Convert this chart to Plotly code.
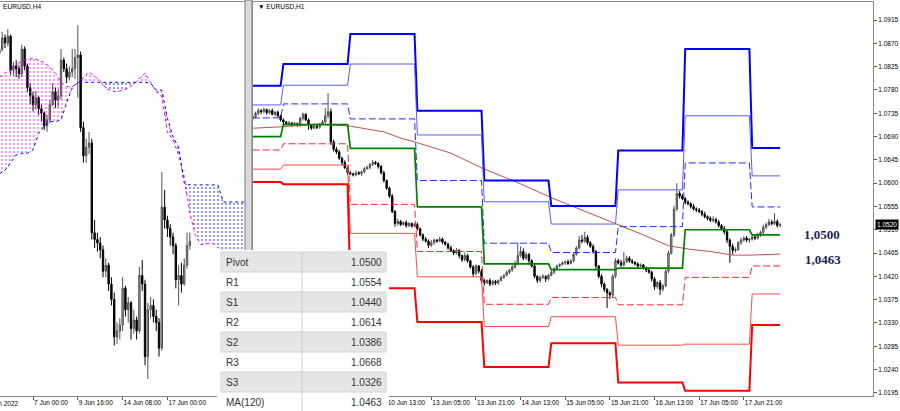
import plotly.graph_objects as go
import numpy as np

W, H = 900, 411

# ---------------- H4 panel (left) ----------------
h4_open0 = 1.0740
h4_close = [1.0745, 1.0758, 1.0752, 1.0760, 1.0720, 1.0725, 1.0722, 1.0716, 1.0745, 1.0725,
            1.0700, 1.0690, 1.0680, 1.0688, 1.0675, 1.0670, 1.0655, 1.0662, 1.0680, 1.0695,
            1.0685, 1.0690, 1.0732, 1.0722, 1.0712, 1.0718, 1.0722, 1.0735, 1.0738, 1.0653,
            1.0620, 1.0630, 1.0635, 1.0530, 1.0522, 1.0518, 1.0510, 1.0485, 1.0492, 1.0470,
            1.0452, 1.0408, 1.0415, 1.0422, 1.0465, 1.0440, 1.0448, 1.0418, 1.0428, 1.0415,
            1.0480, 1.0470, 1.0385, 1.0440, 1.0445, 1.0432, 1.0425, 1.0395, 1.0560, 1.0545,
            1.0535, 1.0525, 1.0515, 1.0475, 1.0480, 1.0470, 1.0492, 1.0515, 1.0520]
h4_high = [1.0760, 1.0765, 1.0762, 1.0768, 1.0762, 1.0730, 1.0732, 1.0726, 1.0750, 1.0748,
           1.0728, 1.0705, 1.0695, 1.0696, 1.0690, 1.0680, 1.0672, 1.0668, 1.0685, 1.0705,
           1.0700, 1.0698, 1.0745, 1.0735, 1.0728, 1.0725, 1.0745, 1.0745, 1.0773, 1.0742,
           1.0660, 1.0640, 1.0648, 1.0640, 1.0545, 1.0530, 1.0525, 1.0515, 1.0500, 1.0495,
           1.0478, 1.0460, 1.0425, 1.0430, 1.0478, 1.0468, 1.0455, 1.0450, 1.0440, 1.0432,
           1.0490, 1.0498, 1.0475, 1.0448, 1.0455, 1.0452, 1.0440, 1.0430, 1.0601, 1.0580,
           1.0550, 1.0540, 1.0530, 1.0518, 1.0492, 1.0495, 1.0500, 1.0530, 1.0530]
h4_low = [1.0740, 1.0742, 1.0746, 1.0748, 1.0715, 1.0714, 1.0712, 1.0710, 1.0712, 1.0720,
          1.0695, 1.0680, 1.0672, 1.0674, 1.0668, 1.0660, 1.0650, 1.0648, 1.0658, 1.0678,
          1.0676, 1.0677, 1.0686, 1.0718, 1.0705, 1.0708, 1.0712, 1.0710, 1.0688, 1.0648,
          1.0612, 1.0612, 1.0622, 1.0522, 1.0512, 1.0508, 1.0500, 1.0478, 1.0478, 1.0462,
          1.0445, 1.0398, 1.0400, 1.0405, 1.0415, 1.0432, 1.0425, 1.0405, 1.0412, 1.0405,
          1.0412, 1.0462, 1.0375, 1.0359, 1.0430, 1.0425, 1.0415, 1.0385, 1.0392, 1.0535,
          1.0525, 1.0515, 1.0505, 1.0465, 1.0445, 1.0460, 1.0468, 1.0488, 1.0510]
h4_tick_idx = [12, 28, 44, 60]
h4_tick_text = ["7 Jun 00:00", "9 Jun 16:00", "14 Jun 08:00", "17 Jun 00:00"]

# Ichimoku cloud (shifted spans), sampled every 2 H4 bars
kumo_idx = list(range(0, 89, 2))
span_a = [1.0712, 1.0717, 1.0720, 1.0727, 1.0731, 1.0733, 1.0734, 1.0732, 1.0729, 1.0724,
          1.0717, 1.0706, 1.0701, 1.0701, 1.0705, 1.0711, 1.0718, 1.0713, 1.0708, 1.0699,
          1.0696, 1.0695, 1.0697, 1.0699, 1.0704, 1.0711, 1.0717, 1.0706, 1.0695, 1.0689,
          1.0647, 1.0639, 1.0621, 1.0596, 1.0553, 1.0527, 1.0516, 1.0517, 1.0518, 1.0513,
          1.0509, 1.0505, 1.0503, 1.0500, 1.0500]
span_b = [1.0599, 1.0603, 1.0612, 1.0621, 1.0623, 1.0623, 1.0627, 1.0646, 1.0655, 1.0660,
          1.0660, 1.0662, 1.0682, 1.0699, 1.0706, 1.0706, 1.0706, 1.0706, 1.0706, 1.0706,
          1.0706, 1.0706, 1.0706, 1.0706, 1.0706, 1.0706, 1.0706, 1.0705, 1.0697, 1.0697,
          1.0664, 1.0642, 1.0630, 1.0588, 1.0586, 1.0586, 1.0586, 1.0586, 1.0586, 1.0586,
          1.0566, 1.0566, 1.0566, 1.0566, 1.0566]

# ---------------- H1 panel (right) ----------------
h1_open0 = 1.0725
h1_close = [1.0728, 1.0735, 1.0740, 1.0738, 1.0742, 1.0736, 1.0740, 1.0733, 1.0737, 1.0730,
            1.0722, 1.0718, 1.0715, 1.0716, 1.0713, 1.0715, 1.0712, 1.0725, 1.0733, 1.0722,
            1.0712, 1.0706, 1.0710, 1.0708, 1.0714, 1.0718, 1.0730, 1.0738, 1.0680, 1.0665,
            1.0660, 1.0648, 1.0640, 1.0630, 1.0620, 1.0618, 1.0616, 1.0620, 1.0618, 1.0622,
            1.0628, 1.0630, 1.0636, 1.0640, 1.0638, 1.0632, 1.0620, 1.0605, 1.0590, 1.0575,
            1.0545, 1.0522, 1.0526, 1.0520, 1.0524, 1.0518, 1.0522, 1.0517, 1.0520, 1.0512,
            1.0500, 1.0492, 1.0488, 1.0480, 1.0485, 1.0490, 1.0488, 1.0492, 1.0486, 1.0482,
            1.0475, 1.0470, 1.0465, 1.0470, 1.0460, 1.0452, 1.0460, 1.0450, 1.0438, 1.0425,
            1.0440, 1.0430, 1.0412, 1.0408, 1.0412, 1.0405, 1.0410, 1.0407, 1.0412, 1.0418,
            1.0422, 1.0428, 1.0432, 1.0438, 1.0445, 1.0460, 1.0468, 1.0455, 1.0462, 1.0450,
            1.0440, 1.0420, 1.0412, 1.0418, 1.0420, 1.0415, 1.0422, 1.0428, 1.0435, 1.0440,
            1.0443, 1.0446, 1.0448, 1.0445, 1.0450, 1.0462, 1.0475, 1.0490, 1.0488, 1.0495,
            1.0485, 1.0478, 1.0468, 1.0440, 1.0420, 1.0405, 1.0395, 1.0388, 1.0384, 1.0420,
            1.0450, 1.0446, 1.0442, 1.0448, 1.0455, 1.0450, 1.0447, 1.0444, 1.0440, 1.0442,
            1.0436, 1.0432, 1.0428, 1.0415, 1.0400, 1.0408, 1.0395, 1.0402, 1.0430, 1.0465,
            1.0500, 1.0550, 1.0580, 1.0575, 1.0570, 1.0563, 1.0560, 1.0555, 1.0550, 1.0548,
            1.0545, 1.0540, 1.0535, 1.0532, 1.0528, 1.0530, 1.0525, 1.0518, 1.0512, 1.0506,
            1.0490, 1.0478, 1.0470, 1.0472, 1.0485, 1.0490, 1.0494, 1.0490, 1.0492, 1.0496,
            1.0494, 1.0500, 1.0505, 1.0515, 1.0520, 1.0525, 1.0522, 1.0526, 1.0518, 1.0520]
# wick lengths in pips above / below the candle body
h1_wick_up = [4, 3, 5, 3, 4, 2, 3, 4, 2, 3,
              2, 3, 2, 4, 2, 3, 2, 3, 3, 2,
              3, 2, 4, 3, 2, 4, 15, 36, 6, 4,
              5, 4, 3, 4, 3, 3, 2, 4, 3, 2,
              3, 4, 3, 5, 3, 2, 3, 4, 2, 3,
              4, 3, 5, 3, 2, 4, 3, 2, 3, 4,
              2, 3, 4, 3, 5, 3, 2, 4, 3, 2,
              3, 4, 2, 5, 3, 2, 6, 3, 2, 4,
              3, 2, 4, 3, 2, 4, 3, 3, 2, 3,
              2, 3, 3, 4, 5, 25, 10, 6, 4, 3,
              3, 4, 2, 3, 4, 2, 3, 4, 2, 3,
              2, 3, 2, 4, 3, 4, 3, 8, 10, 11,
              5, 3, 4, 3, 2, 4, 3, 2, 3, 4,
              5, 4, 6, 19, 5, 4, 3, 2, 3, 3,
              2, 3, 4, 3, 4, 3, 5, 3, 4, 5,
              4, 6, 20, 5, 4, 3, 4, 3, 5, 3,
              4, 3, 5, 3, 4, 6, 3, 4, 3, 5,
              4, 3, 5, 4, 3, 4, 3, 4, 2, 3,
              3, 4, 3, 5, 4, 6, 4, 16, 4, 3]
h1_wick_dn = [4, 3, 4, 5, 3, 4, 3, 2, 4, 3,
              3, 4, 2, 3, 4, 2, 3, 3, 4, 2,
              9, 3, 2, 4, 3, 2, 3, 5, 6, 4,
              4, 3, 5, 3, 4, 2, 3, 3, 2, 4,
              3, 2, 4, 3, 3, 4, 3, 4, 3, 4,
              3, 6, 4, 3, 2, 4, 3, 3, 2, 4,
              3, 4, 3, 5, 3, 4, 3, 2, 4, 3,
              4, 3, 4, 3, 5, 4, 3, 4, 3, 6,
              3, 4, 5, 6, 3, 4, 3, 4, 3, 2,
              3, 2, 4, 3, 3, 4, 3, 4, 3, 4,
              3, 4, 5, 4, 3, 6, 3, 2, 4, 3,
              3, 2, 4, 3, 2, 3, 2, 3, 4, 3,
              4, 3, 4, 5, 4, 6, 5, 29, 8, 5,
              4, 3, 4, 3, 2, 4, 3, 3, 4, 2,
              3, 4, 3, 5, 6, 4, 11, 4, 3, 4,
              3, 4, 4, 5, 3, 4, 3, 4, 3, 4,
              3, 4, 3, 4, 3, 4, 3, 4, 3, 5,
              6, 32, 8, 4, 3, 4, 3, 4, 5, 3,
              4, 3, 4, 3, 4, 3, 4, 3, 4, 3]

# daily pivot levels (one value per trading day)
day_start = [0, 11, 35, 59, 83, 107, 131, 155, 179]
last_bar = 189
lvl_r3 = [1.0788, 1.0830, 1.0888, 1.0740, 1.0605, 1.0556, 1.0663, 1.0859, 1.0668]
lvl_r2 = [1.0751, 1.0789, 1.0830, 1.0693, 1.0564, 1.0521, 1.0587, 1.0730, 1.0614]
lvl_r1 = [1.0726, 1.0753, 1.0724, 1.0605, 1.0484, 1.0466, 1.0516, 1.0639, 1.0554]
lvl_pp = [1.0690, 1.0713, 1.0667, 1.0554, 1.0444, 1.0433, 1.0436, 1.0510, 1.0500]
lvl_s1 = [1.0664, 1.0676, 1.0559, 1.0468, 1.0366, 1.0379, 1.0365, 1.0418, 1.0440]
lvl_s2 = [1.0627, 1.0635, 1.0503, 1.0419, 1.0323, 1.0342, 1.0287, 1.0289, 1.0386]
lvl_s3 = [1.0602, 1.0598, 1.0397, 1.0332, 1.0245, 1.0291, 1.0215, 1.0199, 1.0326]

# MA(120) sampled points
ma_idx = [0, 11, 23, 35, 47, 53, 59, 71, 83, 95, 107, 119, 131, 140, 149, 157, 164, 172, 179, 189]
ma_val = [1.0706, 1.0709, 1.0714, 1.0710, 1.0699, 1.0687, 1.0678, 1.0658, 1.0627, 1.0601,
          1.0572, 1.0546, 1.0519, 1.0500, 1.0479, 1.0472, 1.0468, 1.0461, 1.0461, 1.0463]

h1_tick_idx = [48, 64, 80, 96, 112, 128, 144, 160, 176]
h1_tick_text = ["10 Jun 13:00", "13 Jun 05:00", "13 Jun 21:00", "14 Jun 13:00", "15 Jun 05:00",
                "15 Jun 21:00", "16 Jun 13:00", "17 Jun 05:00", "17 Jun 21:00"]
price_ticks = [1.0195, 1.0240, 1.0285, 1.0330, 1.0375, 1.0420, 1.0465, 1.0510, 1.0555,
               1.0600, 1.0645, 1.0690, 1.0735, 1.0780, 1.0825, 1.0870, 1.0915]
last_price = 1.0520

# table
table_names = ["Pivot", "R1", "S1", "R2", "S2", "R3", "S3", "MA(120)"]
table_values = [1.0500, 1.0554, 1.0440, 1.0614, 1.0386, 1.0668, 1.0326, 1.0463]
label_levels = ["1,0500", "1,0463"]
label_level_values = [1.0500, 1.0463]


def px(x):
    return x / W


def py(y):
    return 1 - y / H


def ohlc(open0, close, high=None, low=None, up=None, dn=None):
    o = [open0] + close[:-1]
    if high is None:
        high = [max(a, b) + u * 1e-4 for a, b, u in zip(o, close, up)]
        low = [min(a, b) - d * 1e-4 for a, b, d in zip(o, close, dn)]
    else:
        high = [max(h, a, b) for h, a, b in zip(high, o, close)]
        low = [min(l, a, b) for l, a, b in zip(low, o, close)]
    return o, high, low


fig = go.Figure()

# ---- Ichimoku cloud on left panel ----
A = np.array(span_a)
B = np.array(span_b)
lowAB = np.minimum(A, B)
fig.add_trace(go.Scatter(x=kumo_idx, y=lowAB, mode="lines", line=dict(width=0),
                         xaxis="x", yaxis="y", hoverinfo="skip", showlegend=False))
fig.add_trace(go.Scatter(x=kumo_idx, y=A, mode="lines", line=dict(width=0), fill="tonexty",
                         fillcolor="rgba(255,255,255,0)",
                         fillpattern=dict(shape=".", fgcolor="#ff00ff", bgcolor="rgba(255,255,255,0)",
                                          size=4, solidity=0.22),
                         xaxis="x", yaxis="y", hoverinfo="skip", showlegend=False))
fig.add_trace(go.Scatter(x=kumo_idx, y=lowAB, mode="lines", line=dict(width=0),
                         xaxis="x", yaxis="y", hoverinfo="skip", showlegend=False))
fig.add_trace(go.Scatter(x=kumo_idx, y=B, mode="lines", line=dict(width=0), fill="tonexty",
                         fillcolor="rgba(255,255,255,0)",
                         fillpattern=dict(shape=".", fgcolor="#0000ff", bgcolor="rgba(255,255,255,0)",
                                          size=4, solidity=0.22),
                         xaxis="x", yaxis="y", hoverinfo="skip", showlegend=False))
fig.add_trace(go.Scatter(x=kumo_idx, y=A, mode="lines", line=dict(width=1, color="#ff00ff", dash="dot"),
                         xaxis="x", yaxis="y", hoverinfo="skip", showlegend=False))
fig.add_trace(go.Scatter(x=kumo_idx, y=B, mode="lines", line=dict(width=1, color="#0000ff", dash="dot"),
                         xaxis="x", yaxis="y", hoverinfo="skip", showlegend=False))

inc = dict(line=dict(color="#505050", width=1), fillcolor="#a8a8a8")
dec = dict(line=dict(color="#000000", width=1), fillcolor="#000000")

o4, hi4, lo4 = ohlc(h4_open0, h4_close, h4_high, h4_low)
fig.add_trace(go.Candlestick(x=list(range(len(h4_close))), open=o4, high=hi4, low=lo4, close=h4_close,
                             increasing=inc, decreasing=dec, whiskerwidth=0,
                             xaxis="x", yaxis="y", hoverinfo="skip", showlegend=False))


# ---- right panel: pivot steps ----
def step_xy(levels):
    xs, ys = [], []
    ends = day_start[1:] + [last_bar + 1]
    for s, e, v in zip(day_start, ends, levels):
        xs += [s, e - 1]
        ys += [v, v]
    return xs, ys


fig.add_trace(go.Scatter(x=ma_idx, y=ma_val, mode="lines", line=dict(color="#c0504d", width=1),
                         xaxis="x2", yaxis="y2", hoverinfo="skip", showlegend=False))

styles = [
    (lvl_r3, dict(color="#0000ff", width=2)),
    (lvl_r2, dict(color="#5b5bff", width=1)),
    (lvl_r1, dict(color="#2a2aff", width=1, dash="7px,3px")),
    (lvl_pp, dict(color="#008000", width=1.7)),
    (lvl_s1, dict(color="#ff2a2a", width=1, dash="7px,3px")),
    (lvl_s2, dict(color="#ff4a4a", width=1)),
    (lvl_s3, dict(color="#ff0000", width=2)),
]
for lv, st in styles:
    xs, ys = step_xy(lv)
    fig.add_trace(go.Scatter(x=xs, y=ys, mode="lines", line=st, xaxis="x2", yaxis="y2",
                             hoverinfo="skip", showlegend=False))

o1, hi1, lo1 = ohlc(h1_open0, h1_close, up=h1_wick_up, dn=h1_wick_dn)
fig.add_trace(go.Candlestick(x=list(range(len(h1_close))), open=o1, high=hi1, low=lo1, close=h1_close,
                             increasing=inc, decreasing=dec, whiskerwidth=0,
                             xaxis="x2", yaxis="y2", hoverinfo="skip", showlegend=False))

tickfont = dict(family="Liberation Sans, Arial, sans-serif", size=6.5, color="#000000")
ydom = [15 / H, 409 / H]

fig.update_layout(
    width=W, height=H, margin=dict(l=0, r=0, t=0, b=0),
    paper_bgcolor="white", plot_bgcolor="white", showlegend=False,
    xaxis=dict(domain=[0, px(245)], range=[0.214, 87.7], anchor="y",
               tickmode="array", tickvals=h4_tick_idx, ticktext=h4_tick_text, tickangle=0,
               ticks="outside", ticklen=3, tickcolor="#555", ticklabelposition="outside right",
               tickfont=tickfont, showline=True, mirror=True, linecolor="#8a8a8a", linewidth=1,
               showgrid=False, zeroline=False, rangeslider=dict(visible=False)),
    yaxis=dict(domain=ydom, range=[1.0339, 1.0800], anchor="x", showticklabels=False, ticks="",
               showline=True, mirror=True, linecolor="#8a8a8a", linewidth=1,
               showgrid=False, zeroline=False),
    xaxis2=dict(domain=[px(253), px(873)], range=[0.1, 222.3], anchor="y2",
                tickmode="array", tickvals=h1_tick_idx, ticktext=h1_tick_text, tickangle=0,
                ticks="outside", ticklen=3, tickcolor="#555", ticklabelposition="outside right",
                tickfont=tickfont, showline=True, mirror=True, linecolor="#8a8a8a", linewidth=1,
                showgrid=False, zeroline=False, rangeslider=dict(visible=False)),
    yaxis2=dict(domain=ydom, range=[1.01889, 1.09498], anchor="x2", side="right",
                tickmode="array", tickvals=price_ticks, ticktext=[f"{v:.4f}" for v in price_ticks],
                ticks="outside", ticklen=3, tickcolor="#555", tickfont=tickfont,
                showline=True, mirror=True, linecolor="#8a8a8a", linewidth=1,
                showgrid=False, zeroline=False),
)

shapes = []
# panel divider
shapes.append(dict(type="rect", xref="paper", yref="paper", x0=px(245), x1=px(252), y0=0, y1=1,
                   fillcolor="#d9d9d9", line=dict(color="#7f7f7f", width=1), layer="above"))
# table
tx0, tx1, ttop, rowh = 217, 389, 252, 20
shapes.append(dict(type="rect", xref="paper", yref="paper", x0=px(tx0), x1=px(tx1), y0=0, y1=py(ttop - 2),
                   fillcolor="white", line=dict(width=0), layer="above"))
for k in range(len(table_names)):
    y0 = ttop + rowh * k
    if k % 2 == 0:
        shapes.append(dict(type="rect", xref="paper", yref="paper", x0=px(221), x1=px(386),
                           y0=py(y0 + rowh), y1=py(y0), fillcolor="#e6e6e6",
                           line=dict(color="#d2d2d2", width=1), layer="above"))
shapes.append(dict(type="line", xref="paper", yref="paper", x0=px(302), x1=px(302), y0=0, y1=py(ttop),
                   line=dict(color="#d0d0d0", width=1), layer="above"))
fig.update_layout(shapes=shapes)

ann = []
tfont = dict(family="Liberation Sans, Arial, sans-serif", size=10, color="#333333")
for k, (nm, val) in enumerate(zip(table_names, table_values)):
    yc = ttop + rowh * k + rowh / 2
    ann.append(dict(xref="paper", yref="paper", x=px(224), y=py(yc), text=nm, showarrow=False,
                    xanchor="left", yanchor="middle", font=tfont))
    ann.append(dict(xref="paper", yref="paper", x=px(384), y=py(yc), text=f"{val:.4f}", showarrow=False,
                    xanchor="right", yanchor="middle", font=tfont))

# level labels
lfont = dict(family="Liberation Serif, Times New Roman, serif", size=13, color="#1e1e55")
ann.append(dict(xref="paper", yref="y2", x=px(822), y=label_level_values[0], text=f"<b>{label_levels[0]}</b>",
                showarrow=False, xanchor="center", yanchor="middle", font=lfont))
ann.append(dict(xref="paper", yref="y2", x=px(823), y=label_level_values[1], yshift=-5,
                text=f"<b>{label_levels[1]}</b>", showarrow=False, xanchor="center", yanchor="middle", font=lfont))

# price label
ann.append(dict(xref="paper", yref="y2", x=px(875), y=last_price, text=f"{last_price:.4f}", showarrow=False,
                xanchor="left", yanchor="middle", bgcolor="#000000", borderpad=1,
                font=dict(family="Liberation Sans, Arial, sans-serif", size=6.5, color="#ffffff")))

# chart titles
hfont = dict(family="Liberation Sans, Arial, sans-serif", size=6.6, color="#000000")
ann.append(dict(xref="paper", yref="paper", x=px(256), y=py(7), text="▼ EURUSD,H1", showarrow=False,
                xanchor="left", yanchor="middle", font=hfont))
ann.append(dict(xref="paper", yref="paper", x=px(1), y=py(7), text="EURUSD,H4", showarrow=False,
                xanchor="left", yanchor="middle", font=hfont))
# first (cropped) date label of the H4 axis
ann.append(dict(xref="paper", yref="paper", x=px(21), y=py(403.5), text="2 Jun 2022", showarrow=False,
                xanchor="right", yanchor="middle", font=tickfont))

fig.update_layout(annotations=ann)

fig.write_html("out.html", config={"displayModeBar": False},
               post_script="document.body.style.margin='0';document.body.style.overflow='hidden';")
